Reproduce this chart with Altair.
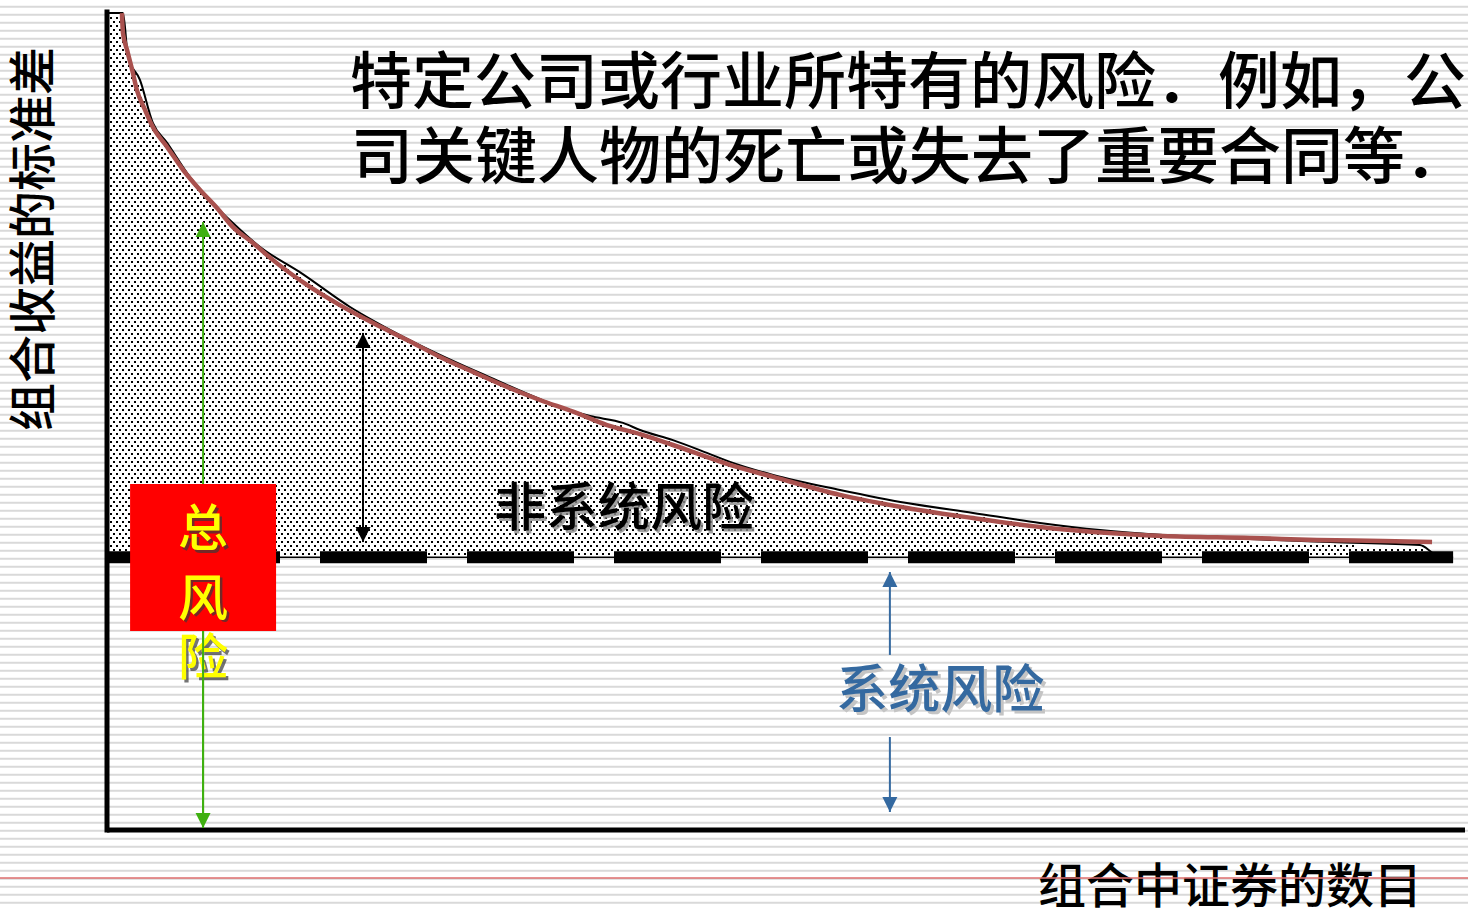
import altair as alt
import numpy as np
import pandas as pd

# ---------------- data (x: number of securities, y: std. dev. of portfolio return) ----------------
curve_n = [0.44, 0.47, 0.59, 0.74, 0.88, 1.12, 1.35, 1.77, 2.24, 2.74,
           3.24, 3.71, 4.30, 4.89, 5.89, 6.86, 7.84, 8.84, 9.81, 10.78,
           11.78, 12.75, 13.73, 14.73, 15.70, 16.67, 18.35, 19.62, 21.59, 23.56,
           25.51, 27.48, 31.10, 33.67, 35.64, 37.58, 39.03]
curve_sd = [29.96, 29.23, 28.61, 27.88, 27.14, 26.41, 25.78, 25.05, 24.21, 23.47,
            22.81, 22.11, 21.53, 20.90, 19.99, 19.25, 18.59, 17.97, 17.35, 16.80,
            16.25, 15.77, 15.34, 14.85, 14.52, 14.12, 13.39, 12.95, 12.29, 11.81,
            11.44, 11.11, 10.78, 10.71, 10.64, 10.60, 10.56]

# hand-drawn black outline of the shaded (unsystematic) region
outline_n = [0.00, 0.47, 0.62, 0.97, 1.35, 1.77, 2.44, 3.03, 3.71, 4.51,
             5.68, 7.16, 8.63, 10.99, 14.23, 15.20, 15.70, 16.67, 17.67, 18.35,
             19.62, 21.59, 23.56, 25.51, 27.48, 29.25, 31.10, 33.67, 36.03, 38.67,
             38.97, 39.17]
outline_sd = [29.96, 29.96, 28.35, 27.51, 25.93, 25.20, 23.95, 23.10, 22.26, 21.38,
              20.46, 19.18, 18.15, 16.76, 15.18, 14.93, 14.67, 14.30, 13.83, 13.50,
              13.02, 12.47, 11.99, 11.63, 11.26, 11.00, 10.82, 10.67, 10.56, 10.45,
              10.23, 10.01]

systematic_sd = 10.0
axis_max_n = 40.0
axis_max_sd = 30.0
dash_end_n = 39.65

# texts
title_lines = ["特定公司或行业所特有的风险．例如，公", "司关键人物的死亡或失去了重要合同等．"]
title_n = [7.16, 7.19]
title_sd = [27.51, 24.76]
y_title = "组合收益的标准差"
x_title = "组合中证券的数目"
unsys_label = "非系统风险"
sys_label = "系统风险"
total_chars = ["总", "风", "险"]
total_sd = [11.11, 8.55, 6.38]
total_n = 2.83
box_n = [0.68, 4.98]
box_sd = [7.30, 12.69]

# arrows: x, tail, tip
green_arrow = [2.83, 0.07, 22.30]
black_arrow = [7.54, 10.56, 18.23]
blue_up = [23.06, 6.42, 9.46]
blue_down = [23.06, 3.41, 0.66]

# ---------------- layout ----------------
W, H = 1468, 909
AX_LEFT, AX_RIGHT, AX_BOTTOM, AX_TOP = 107, 1465, 830, 12
KX = (AX_RIGHT - AX_LEFT) / axis_max_n
KY = (AX_BOTTOM - AX_TOP) / axis_max_sd
X_DOMAIN = [-AX_LEFT / KX, (W - AX_LEFT) / KX]
Y_DOMAIN = [-(H - AX_BOTTOM) / KY, AX_BOTTOM / KY]
xs = alt.Scale(domain=X_DOMAIN, nice=False, zero=False)
ys = alt.Scale(domain=Y_DOMAIN, nice=False, zero=False)
FONT = "Noto Sans CJK SC"


def X(f):
    return alt.X(f, type="quantitative", scale=xs, axis=None)


def Y(f):
    return alt.Y(f, type="quantitative", scale=ys, axis=None)


# ---------------- layers ----------------
bg_lines = (
    alt.Chart(alt.sequence(0, 114, as_="k"))
    .transform_calculate(yy=f"({AX_BOTTOM} - 6.7 - 8*datum.k)/{KY}")
    .mark_rule(color="#d9d9d9", strokeWidth=2)
    .encode(x=alt.value(0), x2=alt.value(W), y=Y("yy"))
)

outline_df = pd.DataFrame({"n": outline_n, "sd": outline_sd, "base": systematic_sd})
curve_df = pd.DataFrame({"n": curve_n, "sd": curve_sd})

area = alt.Chart(outline_df).mark_area(color="white", interpolate="monotone").encode(
    x=X("n"), y=Y("sd"), y2=alt.Y2("base")
)

# stipple texture inside the shaded region (pixel-aligned grid, converted to data units)
dots = []
for i, py in enumerate(range(554, AX_TOP, -4)):
    sdv = (AX_BOTTOM - py) / KY
    pxs = np.arange(AX_LEFT + 4 + (i % 2) * 3, AX_LEFT + outline_n[-1] * KX, 6)
    nv = (pxs - AX_LEFT) / KX
    top = np.interp(nv, outline_n, outline_sd)
    for a, t in zip(nv, top):
        if sdv < t - 3 / KY:
            dots.append((a, sdv))
dots_df = pd.DataFrame(dots, columns=["n", "sd"])
stipple = alt.Chart(dots_df).mark_square(size=4, color="black", opacity=1).encode(
    x=X("n"), y=Y("sd")
)

outline = alt.Chart(outline_df).mark_line(color="black", strokeWidth=2, interpolate="monotone").encode(
    x=X("n"), y=Y("sd")
)
red_curve = alt.Chart(curve_df).mark_line(color="#a9514e", strokeWidth=4.5, interpolate="monotone").encode(
    x=X("n"), y=Y("sd")
)

sys_df = pd.DataFrame({"n0": [0.0], "n1": [dash_end_n], "sd": [systematic_sd]})
sys_thin = alt.Chart(sys_df).mark_rule(color="black", strokeWidth=1.5).encode(
    x=X("n0"), x2=alt.X2("n1"), y=Y("sd")
)
sys_dash = alt.Chart(sys_df).mark_rule(
    color="black", strokeWidth=12, strokeDash=[107, 40], strokeDashOffset=81
).encode(x=X("n0"), x2=alt.X2("n1"), y=Y("sd"))

vaxis = alt.Chart(pd.DataFrame({"n": [0.0], "a": [0.0], "b": [axis_max_sd]})).mark_rule(
    color="black", strokeWidth=5, strokeCap="square"
).encode(x=X("n"), y=Y("a"), y2=alt.Y2("b"))
haxis = alt.Chart(pd.DataFrame({"a": [0.0], "b": [axis_max_n], "sd": [0.0]})).mark_rule(
    color="black", strokeWidth=5
).encode(x=X("a"), x2=alt.X2("b"), y=Y("sd"))

red_line = alt.Chart(pd.DataFrame({"sd": [-(878 - AX_BOTTOM) / KY]})).mark_rule(
    color="#e07070", strokeWidth=1.5
).encode(x=alt.value(0), x2=alt.value(W), y=Y("sd"))

UP = "M0,0L0.5,1L-0.5,1Z"
DOWN = "M0,0L0.5,-1L-0.5,-1Z"


def arrow(x, tail, tip, color, width=2):
    return alt.Chart(pd.DataFrame({"n": [x], "a": [tail], "b": [tip]})).mark_rule(
        color=color, strokeWidth=width
    ).encode(x=X("n"), y=Y("a"), y2=alt.Y2("b"))


def heads(rows, color):
    df = pd.DataFrame(rows, columns=["n", "sd", "shape"])
    return alt.Chart(df).mark_point(filled=True, opacity=1, color=color, size=900, strokeWidth=0).encode(
        x=X("n"), y=Y("sd"), shape=alt.Shape("shape:N", scale=None)
    )


GREEN = "#3fb010"
BLUE = "#3469a0"
green_shaft = arrow(green_arrow[0], green_arrow[1], green_arrow[2], GREEN)
green_heads = heads([(green_arrow[0], green_arrow[2], UP), (green_arrow[0], green_arrow[1], DOWN)], GREEN)
green_lower = arrow(green_arrow[0], green_arrow[1] + 0.3, box_sd[0], GREEN)
black_shaft = arrow(black_arrow[0], black_arrow[1], black_arrow[2], "black")
black_heads = heads([(black_arrow[0], black_arrow[2], UP), (black_arrow[0], black_arrow[1], DOWN)], "black")
blue_shaft1 = arrow(blue_up[0], blue_up[1], blue_up[2], BLUE)
blue_shaft2 = arrow(blue_down[0], blue_down[1], blue_down[2], BLUE)
blue_heads = heads([(blue_up[0], blue_up[2], UP), (blue_down[0], blue_down[2], DOWN)], BLUE)

box = alt.Chart(pd.DataFrame({"a": [box_n[0]], "b": [box_n[1]], "c": [box_sd[0]], "d": [box_sd[1]]})).mark_rect(
    color="#ff0000", opacity=1
).encode(x=X("a"), x2=alt.X2("b"), y=Y("c"), y2=alt.Y2("d"))


def text(df, size, color, align="center", angle=0, dx=0, dy=0, opacity=1.0, weight=500):
    kw = dict(font=FONT, fontSize=size, color=color, align=align, baseline="middle",
              dx=dx, dy=dy + 0.08 * size, opacity=opacity, fontWeight=weight)
    if angle:
        kw["angle"] = angle
        kw["dy"] = dy
        kw["dx"] = dx + 0.08 * size
    return alt.Chart(df).mark_text(**kw).encode(x=X("n"), y=Y("sd"), text="t:N")


title_df = pd.DataFrame({"n": title_n, "sd": title_sd, "t": title_lines})
titles = text(title_df, 62, "black", align="left")
ylab = text(pd.DataFrame({"n": [-2.09], "sd": [21.53], "t": [y_title]}), 48, "black", angle=270)
xlab = text(pd.DataFrame({"n": [33.08], "sd": [-2.02], "t": [x_title]}), 48, "black")

unsys_df = pd.DataFrame({"n": [15.23], "sd": [11.88], "t": [unsys_label]})
unsys_sh = text(unsys_df, 52, "#8a8a8a", dx=2.5, dy=2.5, opacity=0.8)
unsys = text(unsys_df, 52, "black")

sys_df2 = pd.DataFrame({"n": [24.54], "sd": [5.21], "t": [sys_label]})
sys_sh = text(sys_df2, 52, "#c4c4c4", dx=3, dy=3)
sys_t = text(sys_df2, 52, BLUE)

tot_df = pd.DataFrame({"n": [total_n] * 3, "sd": total_sd, "t": total_chars})
tot_sh = text(tot_df, 50, "#3a3a3a", dx=2.5, dy=2.5, opacity=0.7)
tot = text(tot_df, 50, "#ffff00")

chart = alt.layer(
    bg_lines, xlab, red_line, area, stipple, outline, red_curve, sys_thin, sys_dash,
    vaxis, haxis, green_shaft, green_heads, black_shaft, black_heads,
    blue_shaft1, blue_shaft2, blue_heads, box, tot_sh, tot, green_lower,
    unsys_sh, unsys, sys_sh, sys_t, titles, ylab,
).properties(
    width=W, height=H, autosize=alt.AutoSizeParams(type="none"), padding=0, background="white"
).configure_view(stroke=None)

chart.save("out.html", embed_options={"renderer": "svg", "actions": False})
